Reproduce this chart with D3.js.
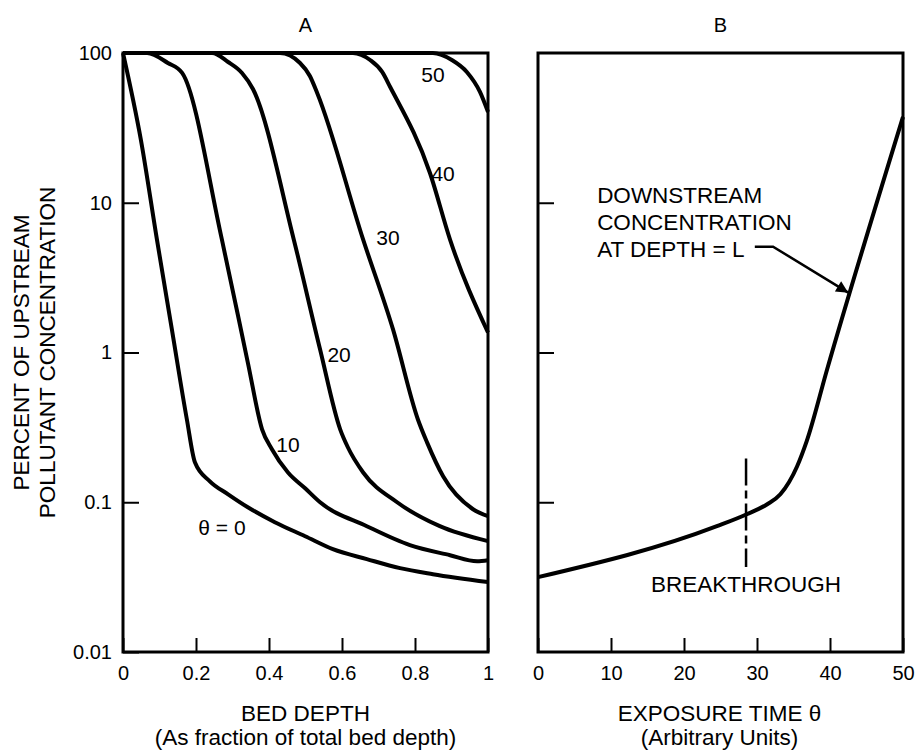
<!DOCTYPE html>
<html>
<head>
<meta charset="utf-8">
<script src="https://cdn.jsdelivr.net/npm/d3@7"></script>
<style>
  html, body { margin: 0; padding: 0; background: #fff; }
  svg { display: block; }
  text { font-family: "Liberation Sans", Arial, Helvetica, sans-serif; fill: #000; }
</style>
</head>
<body>
<svg id="chart" width="919" height="750"></svg>
<script>
// ---------------- DATA ----------------
// Panel A: concentration (% of upstream) vs bed depth (fraction), one curve per exposure time
const depthTheta0  = [[0,100],[0.049,26.3],[0.093,5.67],[0.134,1.42],[0.175,0.357],[0.197,0.185],[0.238,0.138],[0.288,0.113],[0.342,0.0926],[0.416,0.0736],[0.499,0.0593],[0.575,0.0486],[0.668,0.0417],[0.759,0.0363],[0.849,0.0331],[1,0.0293]];
const depthTheta10 = [[0,100],[0.066,100],[0.123,85.8],[0.162,73.6],[0.271,5.67],[0.342,0.857],[0.381,0.307],[0.408,0.226],[0.452,0.158],[0.499,0.124],[0.540,0.1],[0.668,0.0692],[0.786,0.0517],[0.896,0.0443],[0.970,0.0404],[1,0.041]];
const depthTheta20 = [[0,100],[0.244,100],[0.288,87.1],[0.326,73.6],[0.356,57.5],[0.468,5.67],[0.540,1.047],[0.595,0.307],[0.616,0.233],[0.658,0.158],[0.751,0.1],[0.868,0.0692],[1,0.055]];
const depthTheta30 = [[0,100],[0.430,100],[0.485,85.8],[0.512,70.2],[0.532,54.1],[0.658,5.67],[0.740,1.42],[0.808,0.357],[0.833,0.251],[0.877,0.149],[0.959,0.0898],[1,0.0807]];
const depthTheta40 = [[0,100],[0.630,100],[0.677,89.8],[0.710,74.7],[0.732,59.3],[0.841,15.8],[0.896,5.67],[1,1.36]];
const depthTheta50 = [[0,100],[0.849,100],[0.901,89.8],[0.942,74.7],[0.978,55],[1,40.4]];
const curveLabels  = ["θ = 0", "10", "20", "30", "40", "50"];
const curveLabelPos = [[0.271,0.068],[0.452,0.244],[0.592,0.97],[0.726,5.85],[0.877,15.8],[0.849,71.3]];

// Panel B: downstream concentration at depth L vs exposure time
const exposureCurve = [[0,0.0316],[24.5,0.0692],[28.6,0.0832],[31.4,0.097],[33.2,0.113],[35.5,0.174],[36.8,0.255],[39.6,0.77],[50,37.5]];
const breakthroughTime = 28.5;
const breakthroughRange = [0.0369, 0.196];
const arrowPoints = [[29.7,5.09],[32.2,5.09],[42.5,2.51]];
const annotationLines = ["DOWNSTREAM", "CONCENTRATION", "AT DEPTH = L"];
const annotationPos = [8.1, 5.09];

// Axes / ticks
const yTicks = [100, 10, 1, 0.1, 0.01];
const yTickLabels = ["100", "10", "1", "0.1", "0.01"];
const depthTicks = [0, 0.2, 0.4, 0.6, 0.8, 1];
const depthTickLabels = ["0", "0.2", "0.4", "0.6", "0.8", "1"];
const timeTicks = [0, 10, 20, 30, 40, 50];
const timeTickLabels = ["0", "10", "20", "30", "40", "50"];
const titles = ["A", "B"];
const yTitle = ["PERCENT OF UPSTREAM", "POLLUTANT CONCENTRATION"];
const xTitleA = ["BED DEPTH", "(As fraction of total bed depth)"];
const xTitleB = ["EXPOSURE TIME θ", "(Arbitrary Units)"];

// ---------------- LAYOUT ----------------
const svg = d3.select("#chart");
const plotTop = 53, plotBottom = 652;
const pA = { left: 123, right: 488 };
const pB = { left: 538, right: 903 };

const y = d3.scaleLog().domain([0.01, 100]).range([plotBottom, plotTop]);
const xA = d3.scaleLinear().domain([0, 1]).range([pA.left, pA.right]);
const xB = d3.scaleLinear().domain([0, 50]).range([pB.left, pB.right]);

const tickFont = "20px";
const curveFont = "21px";
const labelFont = "22.5px";

function styleAxis(g) {
  g.select(".domain").remove();
  g.selectAll(".tick line").attr("stroke", "#000").attr("stroke-width", 2);
  g.selectAll(".tick text").style("font-size", tickFont).attr("fill", "#000")
    .style("font-family", "'Liberation Sans', Arial, sans-serif");
}

// Panel A axes
svg.append("g").attr("transform", `translate(${pA.left},0)`)
  .call(d3.axisLeft(y).tickValues(yTicks).tickSize(-16).tickPadding(11)
        .tickFormat((d, i) => yTickLabels[i]))
  .call(styleAxis);
svg.append("g").attr("transform", `translate(0,${plotBottom})`)
  .call(d3.axisBottom(xA).tickValues(depthTicks).tickSize(-14).tickPadding(14)
        .tickFormat((d, i) => depthTickLabels[i]))
  .call(styleAxis);

// Panel B axes
svg.append("g").attr("transform", `translate(${pB.left},0)`)
  .call(d3.axisLeft(y).tickValues(yTicks.slice(1, 4)).tickSize(-16).tickFormat(""))
  .call(styleAxis);
svg.append("g").attr("transform", `translate(0,${plotBottom})`)
  .call(d3.axisBottom(xB).tickValues(timeTicks).tickSize(-14).tickPadding(14)
        .tickFormat((d, i) => timeTickLabels[i]))
  .call(styleAxis);

// Frames
[pA, pB].forEach(p => {
  svg.append("rect").attr("x", p.left).attr("y", plotTop)
    .attr("width", p.right - p.left).attr("height", plotBottom - plotTop)
    .attr("fill", "none").attr("stroke", "#000").attr("stroke-width", 3);
});

// Panel A curves
const lineA = d3.line().x(d => xA(d[0])).y(d => y(d[1])).curve(d3.curveMonotoneX);
const curvesA = [depthTheta0, depthTheta10, depthTheta20, depthTheta30, depthTheta40, depthTheta50];
svg.append("g").selectAll("path").data(curvesA).join("path")
  .attr("d", lineA).attr("fill", "none").attr("stroke", "#000")
  .attr("stroke-width", 4).attr("stroke-linejoin", "round");

svg.append("g").selectAll("text").data(curveLabels).join("text")
  .attr("x", (d, i) => xA(curveLabelPos[i][0]))
  .attr("y", (d, i) => y(curveLabelPos[i][1]))
  .attr("text-anchor", "middle").attr("dominant-baseline", "central")
  .style("font-size", curveFont).text(d => d);

// Panel B curve
const lineB = d3.line().x(d => xB(d[0])).y(d => y(d[1])).curve(d3.curveMonotoneX);
svg.append("path").datum(exposureCurve).attr("d", lineB)
  .attr("fill", "none").attr("stroke", "#000").attr("stroke-width", 4)
  .attr("stroke-linejoin", "round");

// Breakthrough marker
svg.append("line")
  .attr("x1", xB(breakthroughTime)).attr("x2", xB(breakthroughTime))
  .attr("y1", y(breakthroughRange[1])).attr("y2", y(breakthroughRange[0]))
  .attr("stroke", "#000").attr("stroke-width", 2.5)
  .attr("stroke-dasharray", "27,5,8,5");
svg.append("text").attr("x", xB(breakthroughTime)).attr("y", y(breakthroughRange[0]) + 25)
  .attr("text-anchor", "middle").style("font-size", labelFont).text("BREAKTHROUGH");

// Annotation text (last line baseline sits just below the arrow's tail)
const annBase = y(annotationPos[1]) + 10;
annotationLines.forEach((t, i) => {
  svg.append("text").attr("x", xB(annotationPos[0]))
    .attr("y", annBase + (i - (annotationLines.length - 1)) * 27)
    .style("font-size", labelFont).text(t);
});

// Arrow
svg.append("defs").append("marker").attr("id", "ah")
  .attr("viewBox", "0 0 10 10").attr("refX", 10).attr("refY", 5)
  .attr("markerWidth", 18).attr("markerHeight", 12).attr("markerUnits", "userSpaceOnUse")
  .attr("orient", "auto")
  .append("path").attr("d", "M0,0 L10,5 L0,10 Z").attr("fill", "#000");
svg.append("path").datum(arrowPoints)
  .attr("d", d3.line().x(d => xB(d[0])).y(d => y(d[1])))
  .attr("fill", "none").attr("stroke", "#000").attr("stroke-width", 2.5)
  .attr("marker-end", "url(#ah)");

// Titles
svg.append("text").attr("x", (pA.left + pA.right) / 2).attr("y", 32)
  .attr("text-anchor", "middle").style("font-size", tickFont).text(titles[0]);
svg.append("text").attr("x", (pB.left + pB.right) / 2).attr("y", 32)
  .attr("text-anchor", "middle").style("font-size", tickFont).text(titles[1]);

// Y title
const yMid = (plotTop + plotBottom) / 2;
yTitle.forEach((t, i) => {
  svg.append("text").attr("transform", `translate(${29 + i * 26},${yMid}) rotate(-90)`)
    .attr("text-anchor", "middle").style("font-size", labelFont).text(t);
});

// X titles
xTitleA.forEach((t, i) => {
  svg.append("text").attr("x", (pA.left + pA.right) / 2).attr("y", 721 + i * 24)
    .attr("text-anchor", "middle").style("font-size", labelFont).text(t);
});
xTitleB.forEach((t, i) => {
  svg.append("text").attr("x", (pB.left + pB.right) / 2 - 1).attr("y", 721 + i * 24)
    .attr("text-anchor", "middle").style("font-size", labelFont).text(t);
});
</script>
</body>
</html>
